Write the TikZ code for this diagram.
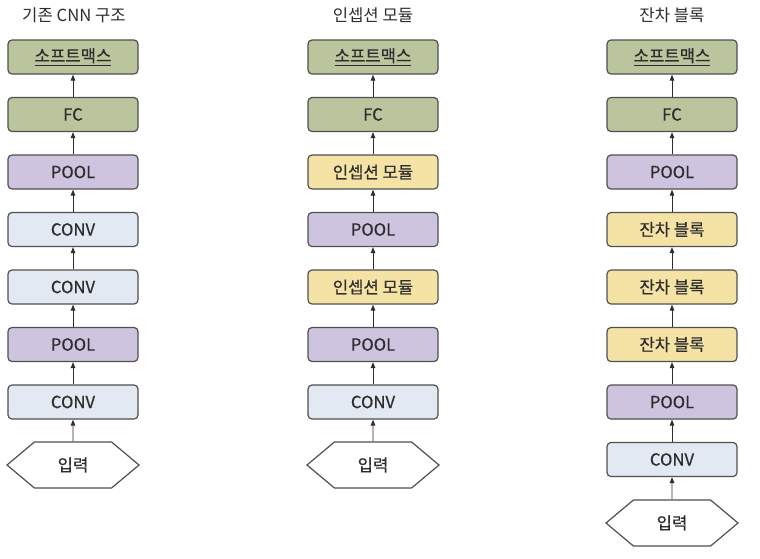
\documentclass[tikz,border=0pt]{standalone}
\usepackage{fontspec}
\setmainfont{Noto Sans CJK KR}
\newfontfamily\boxfont{Noto Sans CJK KR}[FakeBold=0.6]
\usetikzlibrary{arrows.meta,shapes.symbols}

\definecolor{lineGray}{RGB}{80,80,80}
\definecolor{txtGray}{RGB}{45,45,45}
\definecolor{smGreen}{RGB}{186,196,157}
\definecolor{poolPurple}{RGB}{207,196,224}
\definecolor{convBlue}{RGB}{226,233,242}
\definecolor{blockYellow}{RGB}{245,227,166}

\tikzset{
  layer/.style={draw=lineGray, line width=0.9pt, rounded corners=3pt,
    minimum width=97.5pt, minimum height=25.5pt, inner sep=0pt,
    text=txtGray, font=\boxfont\fontsize{12.5}{14}\selectfont},
  inputhex/.style={signal, signal to=east and west, signal pointer angle=80,
    draw=lineGray, line width=0.9pt, fill=white, minimum width=99pt,
    minimum height=34.5pt, inner sep=0pt, text=txtGray,
    font=\boxfont\fontsize{12.5}{14}\selectfont},
  coltitle/.style={text=txtGray, font=\fontsize{12.5}{14}\selectfont},
  flow/.style={draw=txtGray, line width=0.7pt, -{Triangle[length=4.5pt,width=3.4pt]}},
}

\begin{document}
\begin{tikzpicture}[x=0.75pt,y=0.75pt,yscale=-1,xscale=1]
\useasboundingbox (0,0) rectangle (760,558);

% Column 1: plain CNN
\node[coltitle] (ta) at (74,15) {기존 CNN 구조};
\node[layer, fill=smGreen] (a1) at (73,57) {\underline{소프트맥스}};
\node[layer, fill=smGreen] (a2) at (73,114.5) {FC};
\node[layer, fill=poolPurple] (a3) at (73,172) {POOL};
\node[layer, fill=convBlue] (a4) at (73,229.5) {CONV};
\node[layer, fill=convBlue] (a5) at (73,287) {CONV};
\node[layer, fill=poolPurple] (a6) at (73,344.5) {POOL};
\node[layer, fill=convBlue] (a7) at (73,402) {CONV};
\node[inputhex] (a8) at (73,465) {입력};

% Column 2: inception
\node[coltitle] (tb) at (373,15) {인셉션 모듈};
\node[layer, fill=smGreen] (b1) at (373,57) {\underline{소프트맥스}};
\node[layer, fill=smGreen] (b2) at (373,114.5) {FC};
\node[layer, fill=blockYellow] (b3) at (373,172) {인셉션 모듈};
\node[layer, fill=poolPurple] (b4) at (373,229.5) {POOL};
\node[layer, fill=blockYellow] (b5) at (373,287) {인셉션 모듈};
\node[layer, fill=poolPurple] (b6) at (373,344.5) {POOL};
\node[layer, fill=convBlue] (b7) at (373,402) {CONV};
\node[inputhex] (b8) at (373,465) {입력};

% Column 3: residual
\node[coltitle] (tc) at (672,15) {잔차 블록};
\node[layer, fill=smGreen] (c1) at (672,57) {\underline{소프트맥스}};
\node[layer, fill=smGreen] (c2) at (672,114.5) {FC};
\node[layer, fill=poolPurple] (c3) at (672,172) {POOL};
\node[layer, fill=blockYellow] (c4) at (672,229.5) {잔차 블록};
\node[layer, fill=blockYellow] (c5) at (672,287) {잔차 블록};
\node[layer, fill=blockYellow] (c6) at (672,344.5) {잔차 블록};
\node[layer, fill=poolPurple] (c7) at (672,402) {POOL};
\node[layer, fill=convBlue] (c8) at (672,459.5) {CONV};
\node[inputhex] (c9) at (672,523) {입력};

% arrows
\foreach \lo/\hi in {a8/a7,a7/a6,a6/a5,a5/a4,a4/a3,a3/a2,a2/a1,
                     b8/b7,b7/b6,b6/b5,b5/b4,b4/b3,b3/b2,b2/b1,
                     c9/c8,c8/c7,c7/c6,c6/c5,c5/c4,c4/c3,c3/c2,c2/c1}
  \draw[flow] (\lo) -- (\hi);

\end{tikzpicture}
\end{document}
